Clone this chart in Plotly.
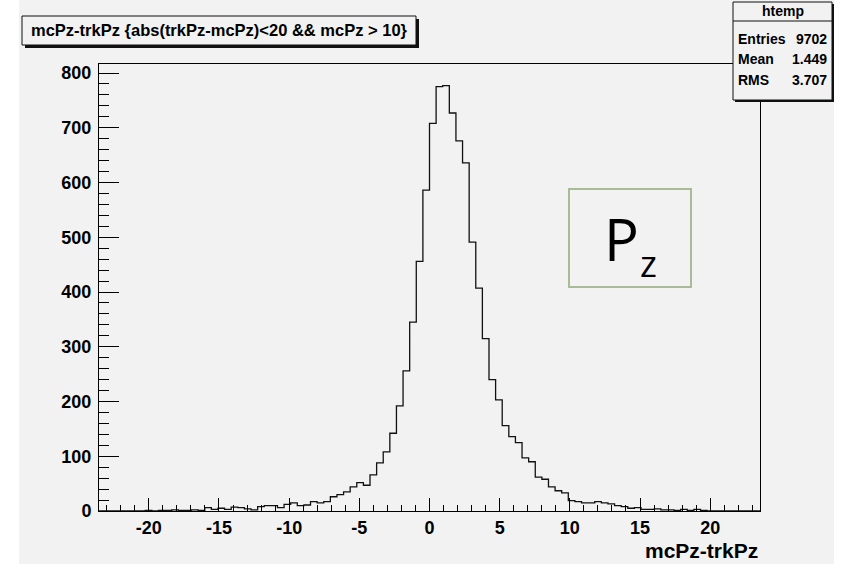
import plotly.graph_objects as go

# ---------------- data ----------------
x_min, x_max, n_bins = -23.55, 23.55, 100
counts = [
    0, 0, 0, 0, 0, 0, 0, 1, 0, 1,
    1, 2, 1, 1, 2, 1, 6, 3, 5, 3,
    7, 6, 4, 2, 8, 10, 10, 6, 12, 15,
    10, 11, 17, 15, 17, 26, 30, 35, 44, 52,
    47, 66, 88, 108, 142, 192, 256, 345, 456, 586,
    708, 775, 777, 727, 676, 636, 491, 407, 315, 240,
    203, 156, 136, 125, 97, 90, 62, 58, 44, 37,
    33, 19, 17, 15, 15, 17, 15, 13, 10, 8,
    5, 6, 3, 3, 4, 2, 2, 1, 3, 1,
    3, 1, 0, 0, 0, 0, 0, 0, 0, 0,
]
x_tick_vals = [-20, -15, -10, -5, 0, 5, 10, 15, 20]
x_tick_text = ["-20", "-15", "-10", "-5", "0", "5", "10", "15", "20"]
title_text = "mcPz-trkPz {abs(trkPz-mcPz)<20 && mcPz > 10}"
x_title = "mcPz-trkPz"
stats_name = "htemp"
stats_labels = ["Entries", "Mean", "RMS"]
stats_values = ["9702", "1.449", "3.707"]
y_max = 816.5

# ---------------- geometry helpers ----------------
W, H = 841, 564
L, R, T, B = 99, 760, 64, 511
def px(x):
    return (x - L) / (R - L)
def py(y):
    return (B - y) / (B - T)

bw = (x_max - x_min) / n_bins
edges = [x_min + i * bw for i in range(n_bins + 1)]
xs = edges[:-1] + [edges[-1]]
ys = counts + [counts[-1]]

BG = "#f2f2f2"
FONT = "Liberation Sans"

fig = go.Figure()
fig.add_trace(go.Scatter(x=xs, y=ys, mode="lines", line=dict(shape="hv", color="#111111", width=1.3),
                         hoverinfo="skip", showlegend=False))

shapes = []
annotations = []

# white side strips (outside ROOT canvas)
shapes.append(dict(type="rect", xref="paper", yref="paper", x0=px(0), x1=px(19), y0=py(H), y1=py(0),
                   fillcolor="white", line=dict(width=0), layer="below"))
shapes.append(dict(type="rect", xref="paper", yref="paper", x0=px(834), x1=px(W), y0=py(H), y1=py(0),
                   fillcolor="white", line=dict(width=0), layer="below"))

# title box with shadow
tb = (22, 16, 416, 45)
shapes.append(dict(type="rect", xref="paper", yref="paper", x0=px(tb[0] + 3), x1=px(tb[2] + 3),
                   y0=py(tb[3] + 3), y1=py(tb[1] + 3), fillcolor="#111111", line=dict(width=0)))
shapes.append(dict(type="rect", xref="paper", yref="paper", x0=px(tb[0]), x1=px(tb[2]),
                   y0=py(tb[3]), y1=py(tb[1]), fillcolor=BG, line=dict(color="#111111", width=1)))
annotations.append(dict(text=title_text, xref="paper", yref="paper", x=px((tb[0] + tb[2]) / 2),
                        y=py((tb[1] + tb[3]) / 2), xanchor="center", yanchor="middle", showarrow=False,
                        font=dict(family=FONT, size=16.5, color="black", weight="bold")))

# stats box with shadow
sb = (733, 2, 832, 100)
shapes.append(dict(type="rect", xref="paper", yref="paper", x0=px(sb[0] + 2), x1=px(sb[2] + 2),
                   y0=py(sb[3] + 2), y1=py(sb[1] + 2), fillcolor="#111111", line=dict(width=0)))
shapes.append(dict(type="rect", xref="paper", yref="paper", x0=px(sb[0]), x1=px(sb[2]),
                   y0=py(sb[3]), y1=py(sb[1]), fillcolor=BG, line=dict(color="#111111", width=1)))
shapes.append(dict(type="line", xref="paper", yref="paper", x0=px(sb[0]), x1=px(sb[2]),
                   y0=py(21), y1=py(21), line=dict(color="#111111", width=1)))
annotations.append(dict(text=stats_name, xref="paper", yref="paper", x=px((sb[0] + sb[2]) / 2), y=py(11),
                        xanchor="center", yanchor="middle", showarrow=False,
                        font=dict(family=FONT, size=14, color="black", weight="bold")))
row_y = [39, 59, 80]
for lab, val, ry in zip(stats_labels, stats_values, row_y):
    annotations.append(dict(text=lab, xref="paper", yref="paper", x=px(sb[0] + 3), y=py(ry),
                            xanchor="left", yanchor="middle", showarrow=False,
                            font=dict(family=FONT, size=14, color="black", weight="bold")))
    annotations.append(dict(text=val, xref="paper", yref="paper", x=px(sb[2] - 3), y=py(ry),
                            xanchor="right", yanchor="middle", showarrow=False,
                            font=dict(family=FONT, size=14, color="black", weight="bold")))

# Pz label box
pb = (569, 189, 691, 287)
shapes.append(dict(type="rect", xref="paper", yref="paper", x0=px(pb[0]), x1=px(pb[2]),
                   y0=py(pb[3]), y1=py(pb[1]), fillcolor="rgba(0,0,0,0)",
                   line=dict(color="#a9bb97", width=2)))
annotations.append(dict(text="P", xref="paper", yref="paper", x=px(621), y=py(238),
                        xanchor="center", yanchor="middle", showarrow=False,
                        font=dict(family="Open Sans", size=58, color="black")))
annotations.append(dict(text="z", xref="paper", yref="paper", x=px(648), y=py(263),
                        xanchor="center", yanchor="middle", showarrow=False,
                        font=dict(family="Open Sans", size=36, color="black")))

# x axis title
annotations.append(dict(text=x_title, xref="paper", yref="paper", x=1.0, y=py(550),
                        xanchor="right", yanchor="middle", showarrow=False,
                        font=dict(family=FONT, size=21, color="black", weight="bold")))

fig.update_layout(
    width=W, height=H,
    margin=dict(l=L, r=W - R, t=T, b=H - B, pad=0),
    paper_bgcolor=BG, plot_bgcolor=BG,
    shapes=shapes, annotations=annotations,
    xaxis=dict(range=[x_min, x_max], showgrid=False, zeroline=False,
               showline=True, mirror=True, linecolor="black", linewidth=1,
               ticks="inside", ticklen=13, tickcolor="black", tickwidth=1,
               tickmode="array", tickvals=x_tick_vals, ticktext=x_tick_text, ticklabelstandoff=0,
               tickfont=dict(family=FONT, size=18, color="black", weight="bold"),
               minor=dict(ticks="inside", ticklen=6, tickcolor="black", dtick=1, tick0=0, showgrid=False)),
    yaxis=dict(range=[0, y_max], showgrid=False, zeroline=False,
               showline=True, mirror=True, linecolor="black", linewidth=1,
               ticks="inside", ticklen=20, tickcolor="black", tickwidth=1,
               tick0=0, dtick=100, ticklabelstandoff=3,
               tickfont=dict(family=FONT, size=18, color="black", weight="bold"),
               minor=dict(ticks="inside", ticklen=10, tickcolor="black", dtick=20, tick0=0, showgrid=False)),
)

fig.write_html("out.html")
